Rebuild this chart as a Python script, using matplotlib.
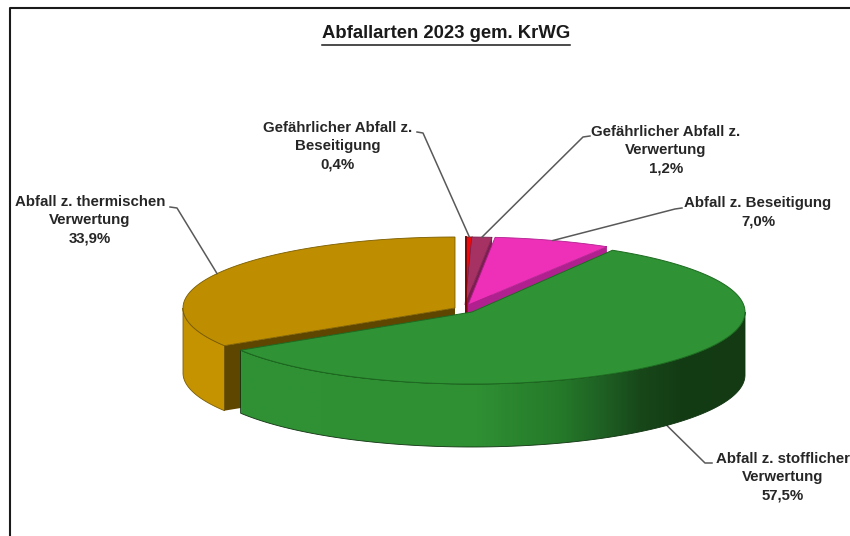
"""
Abfallarten 2023 gem. KrWG - exploded 3D pie, drawn by hand in pixel coordinates.
Output: out.png
"""

import numpy as np
import matplotlib.pyplot as plt
from matplotlib.patches import Polygon
from matplotlib.colors import LinearSegmentedColormap

plt.rcParams["font.family"] = ["Liberation Sans", "DejaVu Sans"]

TITLE = "Abfallarten 2023 gem. KrWG"

# slices run clockwise from 12 o'clock
NAMES = [
    "Gefährlicher Abfall z.\nBeseitigung",
    "Gefährlicher Abfall z.\nVerwertung",
    "Abfall z. Beseitigung",
    "Abfall z. stofflicher\nVerwertung",
    "Abfall z. thermischen\nVerwertung",
]
VALUES = [0.4, 1.2, 7.0, 57.5, 33.9]

# pie apex of every slice (explosion offsets)
APEX_X = [466, 465, 468, 472, 455]
APEX_Y = [305, 305, 305, 312, 308]
RADIUS_X = [270, 270, 270, 273, 272]
RADIUS_Y = [68, 68, 68, 72, 71]
DEPTH = [65, 65, 65, 63, 65]

TOP_COLORS = ["#EE0A0A", "#A63263", "#EE30B8", "#2F9234", "#BE8E00"]
WALL_COLORS = ["#7E0606", "#7A1F50", "#B0208F", "#2F9234", "#5E4500"]
RIM_COLOR_GOLD = "#C59300"

# label centre x / y, then the leader's elbow and its end next to the text
LABEL_X = [338, 666, 758, 783, 90]
LABEL_Y = [146, 150, 212, 477, 220]
ELBOW = [(423, 133), (583, 137), (675, 209), (705, 463), (177, 208)]
LEADER_END = [(417, 132), (590, 136), (682, 208), (712, 463), (170, 207)]

LINE_GREY = "#595959"
FONT_SIZE = 10.8


def slice_angles():
    edges = np.cumsum([0] + VALUES) / sum(VALUES) * 2 * np.pi
    return edges[:-1], edges[1:]


def rim(i, theta, drop=0):
    x = APEX_X[i] + RADIUS_X[i] * np.sin(theta)
    y = APEX_Y[i] - RADIUS_Y[i] * np.cos(theta) + drop
    return x, y


def rim_points(i, t0, t1, drop=0):
    theta = np.linspace(t0, t1, 200)
    return np.column_stack(rim(i, theta, drop))


def draw_top(ax, i, t0, t1, edge):
    pts = np.vstack([[APEX_X[i], APEX_Y[i]], rim_points(i, t0, t1)])
    ax.add_patch(Polygon(pts, closed=True, facecolor=TOP_COLORS[i],
                         edgecolor=edge, linewidth=0.6))


def draw_cut_wall(ax, i, theta):
    apex = (APEX_X[i], APEX_Y[i])
    outer = rim(i, theta)
    pts = [apex, outer, (outer[0], outer[1] + DEPTH[i]), (apex[0], apex[1] + DEPTH[i])]
    ax.add_patch(Polygon(pts, closed=True, facecolor=WALL_COLORS[i], edgecolor="none"))


def outer_wall(i, t0, t1):
    return np.vstack([rim_points(i, t0, t1), rim_points(i, t1, t0, DEPTH[i])])


def draw_pie(ax):
    starts, ends = slice_angles()

    # thermal slice sits furthest back on the left
    gold = 4
    ax.add_patch(Polygon(outer_wall(gold, starts[gold], 1.5 * np.pi), closed=True,
                         facecolor=RIM_COLOR_GOLD, edgecolor="#7A5C00", linewidth=0.6))
    draw_cut_wall(ax, gold, starts[gold])
    draw_top(ax, gold, starts[gold], ends[gold], "#7A5C00")

    # the three thin slices at the top, each with its right hand wall
    for i in (0, 1, 2):
        draw_cut_wall(ax, i, ends[i])
        draw_top(ax, i, starts[i], ends[i], WALL_COLORS[i])
    x0, y0 = rim(0, starts[0])
    ax.plot([x0, APEX_X[0]], [y0, APEX_Y[0] + 7], color=WALL_COLORS[0], lw=1.4)

    # recycling slice goes on top, outer wall shaded left to right
    green = 3
    wall = outer_wall(green, 0.5 * np.pi, ends[green])
    clip = Polygon(wall, closed=True, facecolor="none", edgecolor="none")
    ax.add_patch(clip)
    cmap = LinearSegmentedColormap.from_list("wall", [
        (0.00, "#2F9234"), (0.47, "#2F8F33"), (0.63, "#257A2A"),
        (0.71, "#1F6224"), (0.79, "#18481A"), (0.87, "#143C14"), (1.00, "#133A13"),
    ])
    img = ax.imshow(np.linspace(0, 1, 256)[None, :], cmap=cmap, aspect="auto",
                    extent=(wall[:, 0].min(), wall[:, 0].max(),
                            wall[:, 1].max(), wall[:, 1].min()), zorder=2)
    img.set_clip_path(clip)
    ax.add_patch(Polygon(wall, closed=True, facecolor="none", edgecolor="#0F3310",
                         linewidth=0.6, zorder=2.1))
    pts = np.vstack([[APEX_X[green], APEX_Y[green]],
                     rim_points(green, starts[green], ends[green])])
    ax.add_patch(Polygon(pts, closed=True, facecolor=TOP_COLORS[green],
                         edgecolor="#1D6B21", linewidth=0.7, zorder=2.2))


def draw_labels(ax):
    starts, ends = slice_angles()
    for i, (name, val) in enumerate(zip(NAMES, VALUES)):
        text = f"{name}\n{val:.1f}%".replace(".", ",").replace("z,", "z.")
        ax.text(LABEL_X[i], LABEL_Y[i], text, ha="center", va="center",
                fontsize=FONT_SIZE, fontweight="bold", color="#262626",
                linespacing=1.38, zorder=5)

        # leader starts on the rim at the middle of the slice
        mid = (starts[i] + ends[i]) / 2
        drop = DEPTH[i] if np.cos(mid) < 0 else 0
        x, y = rim(i, mid, drop)
        ax.plot([x, ELBOW[i][0], LEADER_END[i][0]], [y, ELBOW[i][1], LEADER_END[i][1]],
                color=LINE_GREY, lw=1.1, zorder=1.5 if i != 3 else 1.9,
                solid_joinstyle="round")


def main():
    fig = plt.figure(figsize=(8.5, 5.36), dpi=100, facecolor="white")
    ax = fig.add_axes([0, 0, 1, 1])

    draw_pie(ax)
    draw_labels(ax)

    ax.set_xlim(0, 850)
    ax.set_ylim(536, 0)
    ax.axis("off")

    # frame: only top and left edges are in view
    ax.plot([10, 10, 850], [536, 7.5, 7.5], color="#1A1A1A", lw=1.5)

    ax.text(446, 33.5, TITLE, ha="center", va="center", fontsize=13.3, fontweight="bold",
            color="#1A1A1A")
    ax.plot([322, 570], [45, 45], color="#1A1A1A", lw=1.1)

    fig.savefig("out.png", dpi=100)
    plt.close(fig)


if __name__ == "__main__":
    main()
